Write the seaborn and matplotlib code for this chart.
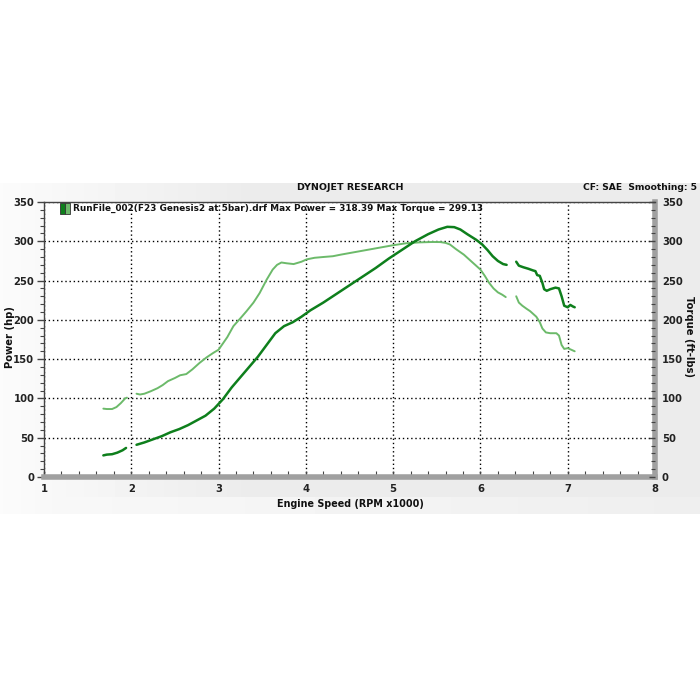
import numpy as np
import pandas as pd
import matplotlib
matplotlib.use("Agg")
import matplotlib.pyplot as plt
import seaborn as sns
from matplotlib.patches import Rectangle

# ---------------- data ----------------
power_rpm_1 = [1.68, 1.72, 1.78, 1.84, 1.90, 1.94]
power_hp_1 = [27.5, 28.5, 29, 31, 34, 37]

power_rpm_2 = [2.06, 2.15, 2.25, 2.35, 2.45, 2.55, 2.65, 2.75, 2.85, 2.95, 3.05, 3.15,
               3.25, 3.35, 3.45, 3.55, 3.65, 3.75, 3.85, 3.95, 4.05, 4.2, 4.35, 4.5,
               4.65, 4.8, 4.95, 5.1, 5.25, 5.4, 5.52, 5.62, 5.7, 5.77, 5.85, 5.95,
               6.02, 6.08, 6.14, 6.2, 6.26, 6.30]
power_hp_2 = [41, 44, 48, 52, 57, 61, 66, 72, 78, 87, 99, 114,
              127, 140, 153, 168, 183, 192, 197, 204, 212, 222, 233, 244,
              255, 266, 278, 289, 300, 309, 315, 318.4, 318, 315, 309, 302,
              296, 289, 281, 275, 271, 270]

power_rpm_3 = [6.41, 6.44, 6.49, 6.55, 6.60, 6.63, 6.65, 6.68, 6.71, 6.73, 6.76, 6.80,
               6.86, 6.90, 6.93, 6.96, 7.00, 7.03, 7.06, 7.08]
power_hp_3 = [274, 269, 267, 265, 263, 262, 257, 256, 247, 239, 237, 239,
              241, 240, 230, 218, 216, 219, 217, 216]

torque_rpm_1 = [1.68, 1.72, 1.78, 1.83, 1.88, 1.93, 1.95]
torque_lb_1 = [87, 86.5, 86.5, 89, 94, 100, 101]

torque_rpm_2 = [2.06, 2.10, 2.15, 2.22, 2.30, 2.36, 2.42, 2.50, 2.56, 2.63, 2.70, 2.78,
                2.86, 2.94, 3.00, 3.05, 3.10, 3.17, 3.25, 3.32, 3.40, 3.47, 3.55, 3.62,
                3.67, 3.72, 3.78, 3.86, 3.95, 4.01, 4.10, 4.20, 4.31, 4.40, 4.50, 4.65,
                4.80, 5.00, 5.15, 5.30, 5.45, 5.54, 5.60, 5.65, 5.72, 5.81, 5.90, 6.00,
                6.05, 6.10, 6.15, 6.20, 6.25, 6.29]
torque_lb_2 = [106, 105, 106, 109, 113, 117, 122, 126, 129.5, 131, 137, 145,
               152, 158, 162, 170, 178, 192, 202, 211, 222, 234, 251, 264,
               270, 273, 272, 271, 274, 277, 279, 280, 281, 283, 285, 288,
               291, 295, 297.5, 298.6, 299.1, 299, 298, 296, 290, 283, 274, 264,
               256, 247, 240, 235, 232, 229]

torque_rpm_3 = [6.41, 6.44, 6.48, 6.53, 6.57, 6.61, 6.64, 6.68, 6.71, 6.75, 6.80, 6.87,
                6.90, 6.93, 6.96, 7.00, 7.04, 7.08]
torque_lb_3 = [230, 222, 218, 214, 211, 207, 204, 197, 189, 184, 183, 183,
               180, 168, 163, 164, 162, 160]

x_ticks = [1, 2, 3, 4, 5, 6, 7, 8]
y_ticks = [0, 50, 100, 150, 200, 250, 300, 350]

title_text = "DYNOJET RESEARCH"
cf_text = "CF: SAE  Smoothing: 5"
legend_text = "RunFile_002(F23 Genesis2 at 5bar).drf Max Power = 318.39 Max Torque = 299.13"
x_label = "Engine Speed (RPM x1000)"
y_label_left = "Power (hp)"
y_label_right = "Torque (ft-lbs)"

DARK = "#0e7f1c"
LIGHT = "#6cba6a"

def seg_frame(pairs):
    rows = []
    for i, (xs, ys) in enumerate(pairs):
        for x, y in zip(xs, ys):
            rows.append({"rpm": x, "val": y, "seg": i})
    return pd.DataFrame(rows)

power_df = seg_frame([(power_rpm_1, power_hp_1), (power_rpm_2, power_hp_2), (power_rpm_3, power_hp_3)])
torque_df = seg_frame([(torque_rpm_1, torque_lb_1), (torque_rpm_2, torque_lb_2), (torque_rpm_3, torque_lb_3)])

# ---------------- figure ----------------
sns.set_theme(style="white")
plt.rcParams["font.family"] = ["DejaVu Sans"]
plt.rcParams["font.weight"] = "bold"

fig = plt.figure(figsize=(7, 7), dpi=100)
fig.patch.set_facecolor("white")

# panel background gradient
bg = fig.add_axes([0, (700 - 514) / 700, 1, 331 / 700], zorder=-5)
gx = np.linspace(0, 1, 200)
row = np.clip(0.985 - 0.06 * np.minimum(gx / 0.35, 1.0), 0, 1)
gy = np.linspace(0, 1, 100)[:, None]
img = row[None, :] * np.ones_like(gy)
img = np.where(gy > 0.95, np.maximum(img, 0.975 - 0.04 * gx[None, :]), img)
bg.imshow(img, cmap="gray", vmin=0, vmax=1, aspect="auto", extent=[0, 1, 0, 1])
bg.set_axis_off()

ax = fig.add_axes([44 / 700, (700 - 477) / 700, 611 / 700, 275 / 700])
ax.set_facecolor("white")

sns.lineplot(data=torque_df, x="rpm", y="val", units="seg", estimator=None,
             color=LIGHT, linewidth=1.4, ax=ax, zorder=3)
sns.lineplot(data=power_df, x="rpm", y="val", units="seg", estimator=None,
             color=DARK, linewidth=1.8, ax=ax, zorder=4)

ax.set_xlim(1, 8)
ax.set_ylim(0, 350)
ax.set_xticks(x_ticks)
ax.set_yticks(y_ticks)
ax.set_xticklabels([str(t) for t in x_ticks])
ax.set_yticklabels([str(t) for t in y_ticks])
ax.set_xticks(np.arange(1, 8.01, 0.2), minor=True)
ax.set_yticks(np.arange(0, 351, 10), minor=True)
ax.grid(True, which="major", color="black", linestyle=(0, (1.0, 2.0)), linewidth=1.0)
ax.grid(False, which="minor")
ax.set_xlabel("")
ax.set_ylabel("")

ax.tick_params(axis="y", which="major", direction="out", length=5, width=1, color="#444",
               labelsize=7.2, labelcolor="#222", pad=2, left=True)
ax.tick_params(axis="y", which="minor", direction="out", length=3, width=0.8, color="#444", left=True)
ax.tick_params(axis="x", which="major", direction="in", length=4, width=1, color="#444",
               labelsize=7.2, labelcolor="#222", pad=5, bottom=True)
ax.tick_params(axis="x", which="minor", direction="in", length=4, width=0.8, color="#444", bottom=True)
for lab in ax.get_xticklabels() + ax.get_yticklabels():
    lab.set_fontweight("bold")

for s in ["left", "top"]:
    ax.spines[s].set_color("#444")
    ax.spines[s].set_linewidth(1.0)
ax.spines["bottom"].set_color("#a0a0a0")
ax.spines["bottom"].set_linewidth(4)
ax.spines["right"].set_color("#a0a0a0")
ax.spines["right"].set_linewidth(4)

ax2 = ax.twinx()
ax2.set_ylim(0, 350)
ax2.set_yticks(y_ticks)
ax2.set_yticklabels([str(t) for t in y_ticks])
ax2.set_yticks(np.arange(0, 351, 10), minor=True)
ax2.tick_params(axis="y", which="major", direction="in", length=4, width=1, color="#444",
                labelsize=7.2, labelcolor="#222", pad=5, right=True)
ax2.tick_params(axis="y", which="minor", direction="in", length=3, width=0.8, color="#444", right=True)
for lab in ax2.get_yticklabels():
    lab.set_fontweight("bold")
for s in ax2.spines.values():
    s.set_visible(False)
ax2.grid(False)

# legend (manual swatch + text)
ax.add_patch(Rectangle((0.026, 0.957), 0.0085, 0.041, transform=ax.transAxes,
                       facecolor=DARK, edgecolor="#333", linewidth=0.6, zorder=6, clip_on=False))
ax.add_patch(Rectangle((0.0345, 0.957), 0.0085, 0.041, transform=ax.transAxes,
                       facecolor=LIGHT, edgecolor="#333", linewidth=0.6, zorder=6, clip_on=False))
ax.text(0.047, 0.977, legend_text, transform=ax.transAxes, ha="left", va="center",
        fontsize=6.4, fontweight="bold", color="#111", zorder=6)

# headers and labels
fig.text(350 / 700, 1 - 187 / 700, title_text, ha="center", va="center",
         fontsize=6.8, fontweight="bold", color="#111")
fig.text(697 / 700, 1 - 187 / 700, cf_text, ha="right", va="center",
         fontsize=6.6, fontweight="bold", color="#111")
fig.text(350 / 700, 1 - 504 / 700, x_label, ha="center", va="center",
         fontsize=6.9, fontweight="bold", color="#111")
fig.text(10 / 700, 1 - 337 / 700, y_label_left, ha="center", va="center", rotation=90,
         fontsize=7.2, fontweight="bold", color="#111")
fig.text(689 / 700, 1 - 337 / 700, y_label_right, ha="center", va="center", rotation=-90,
         fontsize=7.2, fontweight="bold", color="#111")

fig.savefig("out.png", dpi=100, facecolor="white")
